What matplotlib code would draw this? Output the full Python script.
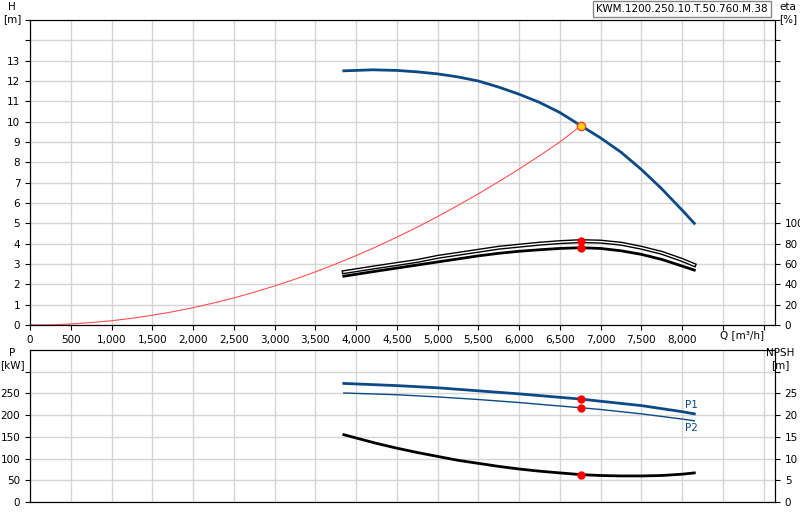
import numpy as np
import matplotlib.pyplot as plt

# Données
q_pump = [3850, 4000, 4200, 4500, 4750, 5000, 5250, 5500, 5750, 6000, 6250, 6500, 6760,
          7000, 7250, 7500, 7750, 8000, 8150]
h_pump = [12.5, 12.52, 12.55, 12.52, 12.45, 12.35, 12.2, 12.0, 11.7, 11.35, 10.95, 10.45, 9.8,
          9.2, 8.5, 7.65, 6.7, 5.65, 5.0]

q_sys = [0, 250, 500, 750, 1000, 1250, 1500, 1750, 2000, 2250, 2500, 2750, 3000, 3250, 3500,
         3750, 4000, 4250, 4500, 4750, 5000, 5250, 5500, 5750, 6000, 6250, 6500, 6760]
h_sys = [0, 0.01, 0.05, 0.12, 0.21, 0.33, 0.48, 0.65, 0.85, 1.08, 1.33, 1.61, 1.92, 2.25, 2.61,
         3.0, 3.41, 3.85, 4.32, 4.81, 5.33, 5.88, 6.45, 7.05, 7.67, 8.32, 9.0, 9.8]

q_eta = [3850, 4250, 4500, 4750, 5000, 5250, 5500, 5750, 6000, 6250, 6500, 6760,
         7000, 7250, 7500, 7750, 8000, 8150]
eta_up = [52, 57, 60, 63, 67, 70, 73, 76, 78, 80, 81.5, 82.5, 82, 80, 76, 71, 64, 59]
eta_lo = [48, 53, 56, 59, 62, 65, 68, 70.5, 72.5, 74, 75.3, 76, 75.3, 73, 69.5, 64.5, 58, 54]

q_p = [3850, 4500, 5000, 5500, 6000, 6500, 6760, 7000, 7500, 8000, 8150]
p1 = [273, 268, 263, 256, 249, 241, 237, 232, 222, 208, 203]
p2 = [251, 247, 242, 236, 229, 221, 217, 213, 203, 191, 187]

q_npsh = [3850, 4250, 4500, 4750, 5000, 5250, 5500, 5750, 6000, 6250, 6500, 6760,
          7000, 7250, 7500, 7750, 8000, 8150]
npsh = [15.5, 13.5, 12.4, 11.4, 10.5, 9.6, 8.9, 8.2, 7.6, 7.1, 6.7, 6.3,
        6.1, 6.0, 6.0, 6.1, 6.4, 6.7]

q_op = 6760
h_op = 9.8
eta_op = [82.5, 76]
p_op = [237, 217]
npsh_op = 6.3

blue = '#0b4a86'
fs = 7.5
fig = plt.figure(figsize=(8, 5.2), dpi=100)

# Courbe H
ax = fig.add_axes([30/800, 1-325/520, 745/800, 305/520])
ax.set_xlim(0, 9140)
ax.set_ylim(0, 15)
ax.set_xticks(np.arange(0, 9001, 500))
ax.set_xticklabels([f'{v:,}' for v in range(0, 8001, 500)] + ['', ''], fontsize=fs)
ax.set_yticks(range(16))
ax.set_yticklabels([str(v) for v in range(14)] + ['', ''], fontsize=fs)
ax.grid(color='#d5d5d5', lw=1)
ax.set_axisbelow(True)
ax.plot(q_sys, h_sys, color='#ff5050', lw=0.8)
ax.plot(q_pump, h_pump, color=blue, lw=2)
ax.plot(q_op, h_op, 'o', ms=6, mfc='#ffd200', mec='#ff4040')
fig.text(12/800, 1-2/520, 'H\n[m]', ha='center', va='top', fontsize=fs)
fig.text(742/800, 1-335/520, 'Q [m³/h]', ha='center', va='center', fontsize=fs)
fig.text(768/800, 1-9/520, 'KWM.1200.250.10.T.50.760.M.38', ha='right', va='center',
         fontsize=fs, bbox=dict(boxstyle='square,pad=0.3', fc='white', ec='#888888'))

ax2 = ax.twinx()
ax2.set_ylim(0, 300)
ax2.set_yticks(range(0, 301, 20))
ax2.set_yticklabels([str(v) for v in range(0, 101, 20)] + [''] * 10, fontsize=fs)
ax2.plot(q_eta, eta_up, color='black', lw=3)
ax2.plot(q_eta, eta_up, color='white', lw=1)
ax2.plot(q_eta, eta_lo, color='black', lw=2)
ax2.plot([q_op, q_op], eta_op, 'o', ms=5, color='red')
fig.text(788/800, 1-2/520, 'eta\n[%]', ha='center', va='top', fontsize=fs)

# Courbes P et NPSH
bx = fig.add_axes([30/800, 1-502/520, 745/800, 152/520])
bx.set_xlim(0, 9140)
bx.set_ylim(0, 350)
bx.set_xticks(np.arange(0, 9001, 500))
bx.set_xticklabels([])
bx.tick_params(axis='x', length=0)
bx.set_yticks(range(0, 301, 50))
bx.set_yticklabels([str(v) for v in range(0, 251, 50)] + [''], fontsize=fs)
bx.grid(color='#d5d5d5', lw=1)
bx.set_axisbelow(True)
bx.plot(q_p, p1, color=blue, lw=2)
bx.plot(q_p, p2, color=blue, lw=1)
bx.plot([q_op, q_op], p_op, 'o', ms=5, color='red')
bx.text(8040, 212, 'P1', color=blue, fontsize=fs, va='bottom')
bx.text(8040, 183, 'P2', color=blue, fontsize=fs, va='top')
fig.text(12/800, 1-348/520, 'P\n[kW]', ha='center', va='top', fontsize=fs)

bx2 = bx.twinx()
bx2.set_ylim(0, 35)
bx2.set_yticks(range(0, 31, 5))
bx2.set_yticklabels([str(v) for v in range(0, 26, 5)] + [''], fontsize=fs)
bx2.plot(q_npsh, npsh, color='black', lw=2)
bx2.plot(q_op, npsh_op, 'o', ms=5, color='red')
fig.text(780/800, 1-348/520, 'NPSH\n[m]', ha='center', va='top', fontsize=fs)

fig.savefig('out.png', dpi=100)
